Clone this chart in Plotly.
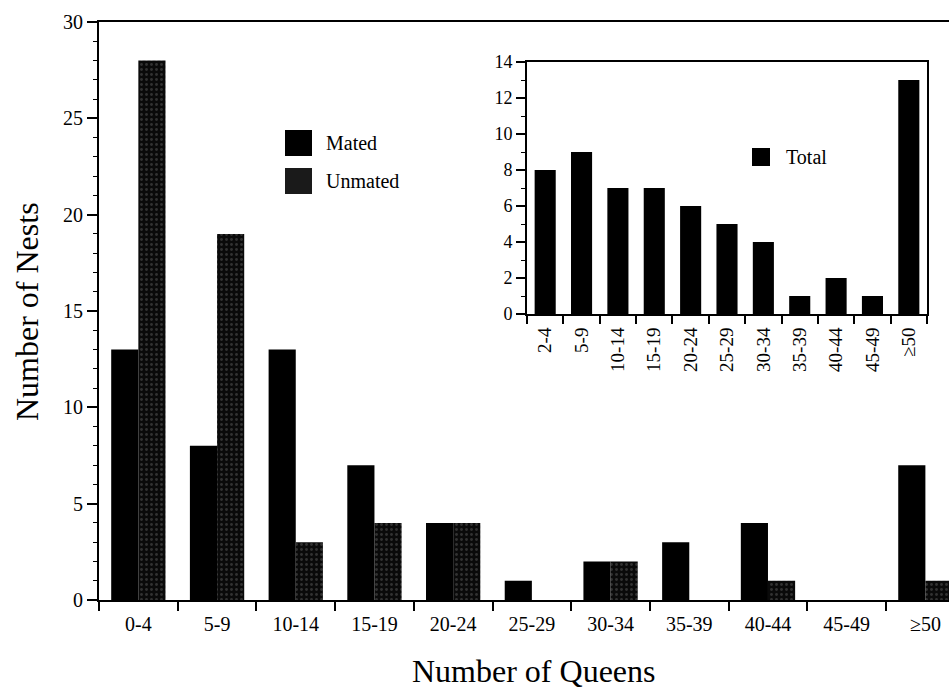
import plotly.graph_objects as go

# ---- data ----
categories = ["0-4", "5-9", "10-14", "15-19", "20-24", "25-29", "30-34",
              "35-39", "40-44", "45-49", "≥50"]
mated = [13, 8, 13, 7, 4, 1, 2, 3, 4, 0, 7]
unmated = [28, 19, 3, 4, 4, 0, 2, 0, 1, 0, 1]

inset_categories = ["2-4", "5-9", "10-14", "15-19", "20-24", "25-29", "30-34",
                    "35-39", "40-44", "45-49", "≥50"]
total = [8, 9, 7, 7, 6, 5, 4, 1, 2, 1, 13]

FONT = "Liberation Serif, Times New Roman, serif"
W, H = 949, 689
L, R, T, B = 99, 0, 22, 89
PW, PH = W - L - R, H - T - B


def px(x):
    return (x - L) / PW


def py(y):
    return (H - B - y) / PH


fig = go.Figure()

fig.add_trace(go.Bar(
    x=categories, y=mated, name="Mated",
    marker=dict(color="#000000", line=dict(width=0)),
    xaxis="x", yaxis="y", showlegend=False,
))
fig.add_trace(go.Bar(
    x=categories, y=unmated, name="Unmated",
    marker=dict(color="#0a0a0a", line=dict(width=0),
                pattern=dict(shape=".", fgcolor="#5a5a5a", bgcolor="#0a0a0a",
                             size=5, solidity=0.25)),
    xaxis="x", yaxis="y", showlegend=False,
))
fig.add_trace(go.Bar(
    x=inset_categories, y=total, name="Total", width=0.58,
    marker=dict(color="#000000", line=dict(width=0)),
    xaxis="x2", yaxis="y2", showlegend=False,
))

axis_common = dict(showgrid=False, zeroline=False, linecolor="black",
                   linewidth=2, tickcolor="black", tickwidth=2,
                   tickfont=dict(family=FONT, size=20, color="black"))

fig.update_layout(
    width=W, height=H,
    margin=dict(l=L, r=R, t=T, b=B, autoexpand=False),
    paper_bgcolor="white", plot_bgcolor="white",
    barmode="group", bargap=0.31, bargroupgap=0,
    font=dict(family=FONT, color="black"),
    xaxis=dict(**axis_common, domain=[0, 1], type="category",
               range=[-0.5, 10.3], showline=True, mirror=True,
               ticks="outside", ticklen=9, tickson="boundaries",
               ticklabelstandoff=5),
    yaxis=dict(**axis_common, domain=[0, 1], range=[0, 30],
               showline=True, ticks="outside", ticklen=10, dtick=5,
               tick0=0,
               minor=dict(dtick=1, ticks="outside", ticklen=4,
                          tickcolor="black", tickwidth=1)),
    xaxis2=dict(showgrid=False, zeroline=False, linecolor="black",
                linewidth=2, tickcolor="black", tickwidth=2,
                tickfont=dict(family=FONT, size=19, color="black"),
                anchor="y2", type="category",
                domain=[px(527), px(927)], range=[-0.5, 10.5],
                showline=True, mirror=True, ticks="outside", ticklen=8,
                tickson="boundaries", tickangle=-90, ticklabelstandoff=4),
    yaxis2=dict(showgrid=False, zeroline=False, linecolor="black",
                linewidth=2, tickcolor="black", tickwidth=2,
                tickfont=dict(family=FONT, size=18, color="black"),
                anchor="x2", domain=[py(314), py(62)], range=[0, 14],
                showline=True, mirror=True, ticks="outside", ticklen=9,
                dtick=2, tick0=0,
                minor=dict(dtick=1, ticks="outside", ticklen=4,
                           tickcolor="black", tickwidth=1)),
)

shapes = [
    dict(type="rect", xref="paper", yref="paper",
         x0=px(285), x1=px(312), y0=py(156), y1=py(130),
         fillcolor="#000000", line=dict(width=0)),
    dict(type="rect", xref="paper", yref="paper",
         x0=px(285), x1=px(312), y0=py(194), y1=py(168),
         fillcolor="#1a1a1a", line=dict(width=0)),
    dict(type="rect", xref="paper", yref="paper",
         x0=px(752), x1=px(770), y0=py(166), y1=py(148),
         fillcolor="#000000", line=dict(width=0)),
]
fig.update_layout(shapes=shapes)

annotations = [
    dict(text="Mated", x=px(324), y=py(143), xref="paper", yref="paper",
         xanchor="left", yanchor="middle", showarrow=False,
         font=dict(family=FONT, size=20, color="black")),
    dict(text="Unmated", x=px(324), y=py(181), xref="paper", yref="paper",
         xanchor="left", yanchor="middle", showarrow=False,
         font=dict(family=FONT, size=20, color="black")),
    dict(text="Total", x=px(784), y=py(157), xref="paper", yref="paper",
         xanchor="left", yanchor="middle", showarrow=False,
         font=dict(family=FONT, size=20, color="black")),
    dict(text="Number of Queens", x=px(533), y=py(671), xref="paper",
         yref="paper", xanchor="center", yanchor="middle", showarrow=False,
         font=dict(family=FONT, size=32, color="black")),
    dict(text="Number of Nests", x=px(27), y=py(312), xref="paper",
         yref="paper", xanchor="center", yanchor="middle", showarrow=False,
         textangle=-90, font=dict(family=FONT, size=32, color="black")),
]
fig.update_layout(annotations=annotations)

fig.write_html("out.html",
               config={"displayModeBar": False},
               post_script="document.body.style.margin='0';"
                           "document.body.style.padding='0';"
                           "document.documentElement.style.overflow='hidden';")
